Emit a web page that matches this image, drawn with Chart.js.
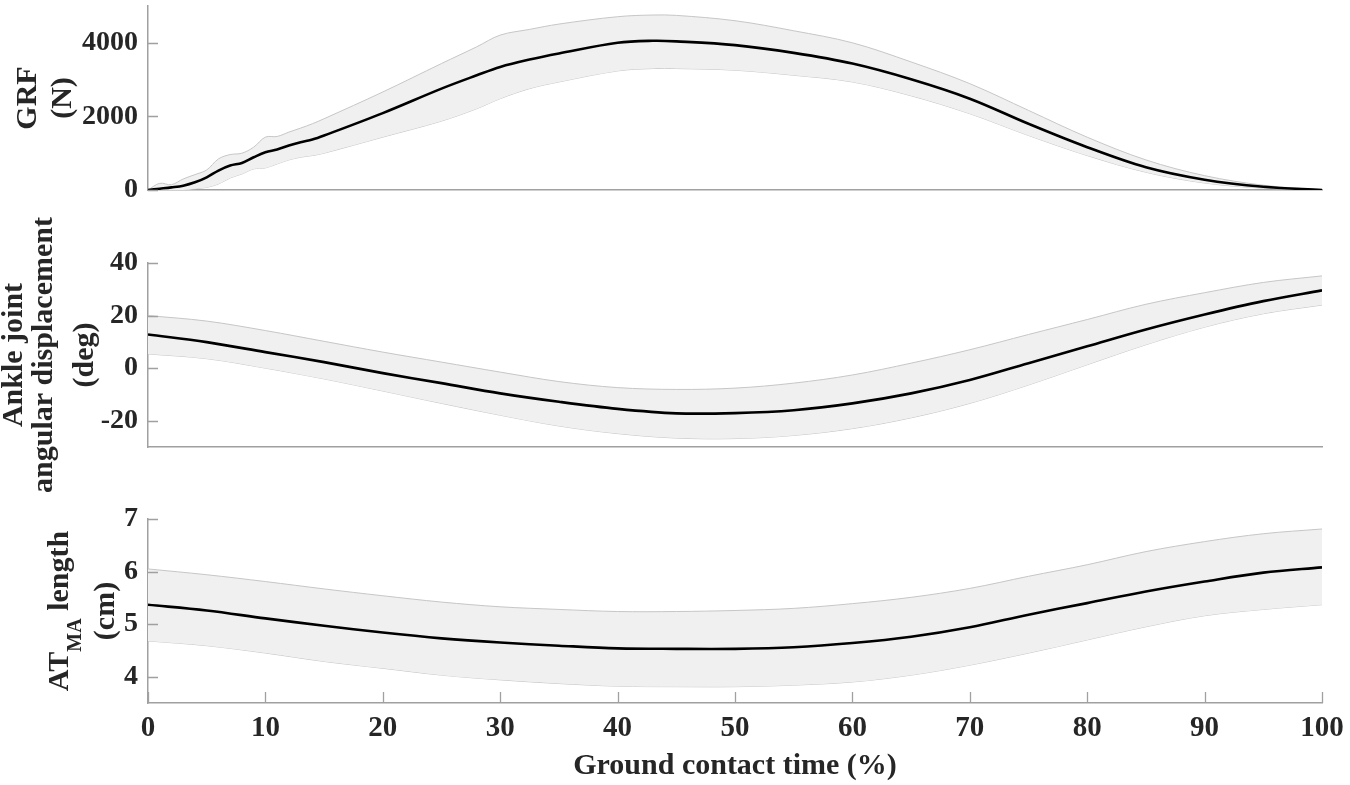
<!DOCTYPE html>
<html>
<head>
<meta charset="utf-8">
<script src="https://cdn.jsdelivr.net/npm/chart.js"></script>
<style>
  body { margin: 0; background: #fff; }
  .wrap { position: relative; width: 1350px; height: 785px; }
  .wrap canvas { position: absolute; left: 0; top: 0; }
</style>
</head>
<body>
<div class="wrap">
  <canvas id="grfChart" width="1350" height="785"></canvas>
  <canvas id="ankleChart" width="1350" height="785"></canvas>
  <canvas id="atmaChart" width="1350" height="785"></canvas>
</div>
<script>
// ground contact time (%)
const grfX = [0, 1, 2, 3, 4, 5, 6, 7, 8, 9, 10, 11, 12, 13, 14, 15, 20, 25, 28, 30, 32.5, 35, 40, 43, 45, 50, 55, 60, 65, 70, 75, 80, 85, 90, 95, 100];
const grfMean = [0, 35, 71, 117, 208, 345, 527, 663, 736, 890, 1026, 1100, 1208, 1300, 1372, 1481, 2090, 2755, 3117, 3345, 3546, 3710, 4000, 4055, 4040, 3937, 3727, 3437, 3010, 2482, 1800, 1164, 618, 280, 90, 0];
const grfUpper = [0, 182, 145, 300, 418, 545, 845, 963, 1000, 1164, 1437, 1455, 1573, 1682, 1800, 1937, 2664, 3437, 3891, 4209, 4364, 4509, 4709, 4755, 4745, 4600, 4327, 4000, 3480, 2890, 2163, 1435, 818, 390, 130, 0];
const grfLower = [0, 0, 0, 0, 34, 71, 163, 327, 436, 573, 600, 709, 818, 891, 936, 1000, 1437, 1873, 2209, 2482, 2755, 2936, 3236, 3300, 3300, 3255, 3118, 2936, 2560, 2073, 1481, 936, 482, 190, 50, 0];

const timeX = [0, 5, 10, 15, 20, 25, 30, 35, 40, 45, 50, 55, 60, 65, 70, 75, 80, 85, 90, 95, 100];
const ankleMean = [12.8, 9.9, 6.1, 2.3, -1.9, -5.7, -9.6, -12.8, -15.5, -17.2, -17.1, -16.0, -13.4, -9.6, -4.5, 1.9, 8.3, 14.7, 20.4, 25.5, 29.6];
const ankleUpper = [20.0, 17.9, 14.3, 10.2, 6.1, 2.3, -1.5, -5.1, -7.4, -8.1, -7.6, -5.7, -2.6, 1.9, 7.0, 12.8, 18.5, 24.3, 28.7, 32.6, 35.1];
const ankleLower = [5.4, 3.6, 0, -4.1, -8.7, -13.4, -17.9, -22.0, -24.9, -26.6, -26.8, -25.6, -23.0, -18.9, -13.4, -6.4, 1.3, 8.9, 15.6, 20.7, 24.0];

const atmaMean = [5.37, 5.26, 5.11, 4.97, 4.84, 4.73, 4.65, 4.59, 4.54, 4.53, 4.53, 4.56, 4.64, 4.76, 4.94, 5.18, 5.40, 5.62, 5.81, 5.98, 6.08];
const atmaUpper = [6.05, 5.94, 5.81, 5.67, 5.54, 5.42, 5.33, 5.28, 5.24, 5.24, 5.26, 5.30, 5.39, 5.51, 5.68, 5.91, 6.13, 6.38, 6.57, 6.72, 6.81];
const atmaLower = [4.68, 4.59, 4.45, 4.29, 4.16, 4.03, 3.94, 3.87, 3.82, 3.81, 3.81, 3.84, 3.90, 4.03, 4.22, 4.45, 4.70, 4.95, 5.16, 5.28, 5.37];

const grfTicks = [0, 2000, 4000];
const ankleTicks = [-20, 0, 20, 40];
const atmaTicks = [4, 5, 6, 7];

const FONT = '"Liberation Serif", "Times New Roman", serif';
const textColor = '#262626';
const axisColor = '#a0a0a0';
const bandFill = '#f0f0f0';
const bandEdge = '#c6c6c6';

// rotated multi-line y label, parts allow the subscript in AT_MA
function yTitle(lines) {
  return {
    id: 'yTitle',
    afterDraw(chart) {
      const ctx = chart.ctx;
      const area = chart.chartArea;
      const cy = (area.top + area.bottom) / 2;
      lines.forEach(line => {
        ctx.save();
        ctx.translate(line.x, cy);
        ctx.rotate(-Math.PI / 2);
        ctx.fillStyle = textColor;
        ctx.textBaseline = 'middle';
        ctx.textAlign = 'left';
        let total = 0;
        const widths = line.parts.map(p => {
          ctx.font = 'bold ' + (p.size || 30) + 'px ' + FONT;
          const w = ctx.measureText(p.text).width;
          total += w;
          return w;
        });
        let pos = -total / 2;
        line.parts.forEach((p, i) => {
          ctx.font = 'bold ' + (p.size || 30) + 'px ' + FONT;
          ctx.fillText(p.text, pos, p.dy || 0);
          pos += widths[i];
        });
        ctx.restore();
      });
    }
  };
}

// tick marks pointing into the plot, like matlab
function innerTicks(showX) {
  return {
    id: 'innerTicks',
    afterDraw(chart) {
      const ctx = chart.ctx;
      const area = chart.chartArea;
      ctx.save();
      ctx.strokeStyle = axisColor;
      ctx.lineWidth = 1.3;
      ctx.beginPath();
      chart.scales.y.ticks.forEach(t => {
        const py = Math.round(chart.scales.y.getPixelForValue(t.value)) + 0.5;
        ctx.moveTo(area.left, py);
        ctx.lineTo(area.left + 10, py);
      });
      if (showX) {
        chart.scales.x.ticks.forEach(t => {
          const px = Math.round(chart.scales.x.getPixelForValue(t.value)) + 0.5;
          ctx.moveTo(px, area.bottom);
          ctx.lineTo(px, area.bottom - 11);
        });
      }
      ctx.stroke();
      ctx.restore();
    }
  };
}

function makePanel(id, xs, mean, upper, lower, yMin, yMax, yTicks, padTop, padBottom, showX, titleLines) {
  const pts = arr => arr.map((v, i) => ({ x: xs[i], y: v }));
  return new Chart(document.getElementById(id), {
    type: 'line',
    data: {
      datasets: [
        { data: pts(mean), borderColor: '#000', borderWidth: 2.6, pointRadius: 0, fill: false, tension: 0.35 },
        { data: pts(upper), borderColor: bandEdge, borderWidth: 1, pointRadius: 0, fill: '+1', backgroundColor: bandFill, tension: 0.35 },
        { data: pts(lower), borderColor: bandEdge, borderWidth: 1, pointRadius: 0, fill: false, tension: 0.35 }
      ]
    },
    options: {
      responsive: false,
      animation: false,
      events: [],
      layout: { padding: { top: padTop, bottom: padBottom, left: 0, right: 28 } },
      plugins: { legend: { display: false }, tooltip: { enabled: false } },
      scales: {
        x: {
          type: 'linear', min: 0, max: 100,
          grid: { display: false, drawTicks: false },
          border: { display: true, color: axisColor, width: 1.5 },
          ticks: {
            display: showX, stepSize: 10, padding: 8, color: textColor,
            font: { family: FONT, size: 29, weight: 'bold' },
            callback: v => String(v)
          },
          title: {
            display: showX, text: 'Ground contact time (%)', color: textColor,
            font: { family: FONT, size: 30, weight: 'bold' },
            padding: { top: 0, bottom: 1 }
          },
          afterFit: s => { s.height = showX ? 82 : 0; s.paddingLeft = 0; s.paddingRight = 0; }
        },
        y: {
          min: yMin, max: yMax,
          grid: { display: false, drawTicks: false },
          border: { display: true, color: axisColor, width: 1.5 },
          ticks: {
            padding: 10, color: textColor,
            font: { family: FONT, size: 28, weight: 'bold' },
            callback: v => String(v)
          },
          afterBuildTicks: s => { s.ticks = yTicks.map(v => ({ value: v })); },
          afterFit: s => { s.width = 148; s.paddingTop = 0; s.paddingBottom = 0; }
        }
      }
    },
    plugins: [yTitle(titleLines), innerTicks(showX)]
  });
}

makePanel('grfChart', grfX, grfMean, grfUpper, grfLower, 0, 5000, grfTicks, 6, 785 - 190, false, [
  { x: 28, parts: [{ text: 'GRF' }] },
  { x: 63, parts: [{ text: '(N)' }] }
]);

makePanel('ankleChart', timeX, ankleMean, ankleUpper, ankleLower, -30, 40, ankleTicks, 263, 785 - 447, false, [
  { x: 14, parts: [{ text: 'Ankle joint' }] },
  { x: 44, parts: [{ text: 'angular displacement' }] },
  { x: 85, parts: [{ text: '(deg)' }] }
]);

makePanel('atmaChart', timeX, atmaMean, atmaUpper, atmaLower, 3.5, 7, atmaTicks, 519, 0, true, [
  { x: 60, parts: [{ text: 'AT' }, { text: 'MA', size: 20, dy: 16 }, { text: ' length' }] },
  { x: 106, parts: [{ text: '(cm)' }] }
]);
</script>
</body>
</html>
